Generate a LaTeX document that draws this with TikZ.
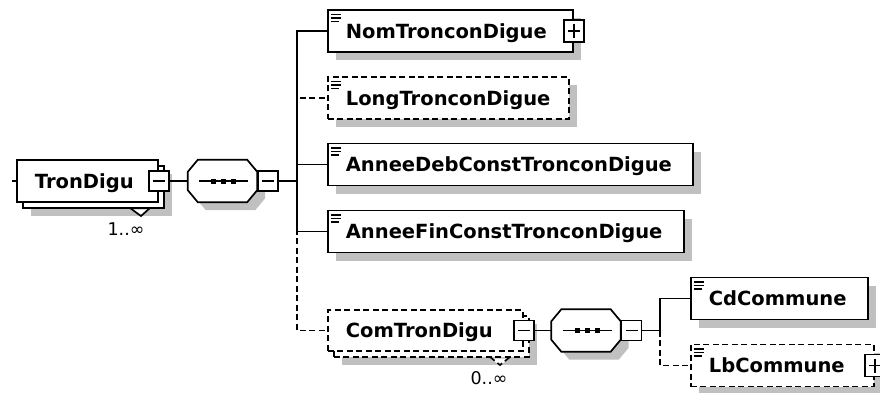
\documentclass[tikz,border=0pt]{standalone}
\usepackage{fontspec}
\setmainfont{DejaVu Sans}
\usetikzlibrary{shadows,calc}
\definecolor{shadowc}{RGB}{192,192,192}
\newcommand{\efont}{\bfseries\fontsize{19.5}{22}\selectfont}
\newcommand{\mfont}{\fontsize{17.5}{20}\selectfont}
\newcommand{\seqshape}[1]{%
  \draw[octo] ($(#1.north west)+(10,0)$) -- ($(#1.north east)+(-10,0)$) -- ($(#1.north east)+(0,12)$) -- ($(#1.south east)+(0,-12)$) -- ($(#1.south east)+(-10,0)$) -- ($(#1.south west)+(10,0)$) -- ($(#1.south west)+(0,-12)$) -- ($(#1.north west)+(0,12)$) -- cycle;
  \draw[conn] ($(#1.center)+(-23.5,0)$) -- ($(#1.center)+(25.5,0)$);
  \foreach \dx in {-9,1,11} \fill ($(#1.center)+(\dx,0)+(-2.5,-2.5)$) rectangle ++(5,5);
}
\tikzset{
  shad/.style={drop shadow={shadow xshift=8pt, shadow yshift=-8pt, fill=shadowc, opacity=1}},
  box/.style={draw, fill=white, line width=1.8pt, anchor=west, inner xsep=18pt, inner ysep=0pt,
    minimum height=42pt, align=left, font=\efont, text height=16pt, text depth=2pt},
  opt/.style={dash pattern=on 6pt off 3.5pt},
  conn/.style={line width=1.7pt},
  icon/.style={path picture={\foreach \dy/\len in {4.5/10,8/10,11.5/8}{\draw[line width=1.4pt, solid] ([xshift=3pt,yshift=-\dy pt]path picture bounding box.north west) -- ++(\len pt,0pt);}}},
  minus/.style={draw, fill=white, solid, line width=1.6pt, minimum width=20pt, minimum height=20pt, inner sep=0pt,
    path picture={\draw[line width=1.5pt] ([xshift=4pt]path picture bounding box.west) -- ([xshift=-4pt]path picture bounding box.east);}},
  plus/.style={draw, fill=white, solid, line width=1.6pt, minimum width=20pt, minimum height=22pt, inner sep=0pt,
    path picture={\draw[line width=1.5pt] ([xshift=4pt]path picture bounding box.west) -- ([xshift=-4pt]path picture bounding box.east);
      \draw[line width=1.5pt] ([yshift=-4pt]path picture bounding box.north) -- ([yshift=4pt]path picture bounding box.south);}},
  seqbox/.style={minimum width=69pt, minimum height=42pt, inner sep=0pt},
  octo/.style={draw, fill=white, line width=1.7pt, shad},
  mult/.style={font=\mfont, inner sep=0pt}
}
\begin{document}
\begin{tikzpicture}[x=1pt,y=-1pt]
\useasboundingbox[fill=white] (0,0) rectangle (880,392);

% TronDigu (stacked)
\node[box, shad, minimum width=141pt] (tronB) at (22,187) {};
\fill[white] (130,209.5) -- (141,216) -- (150,209.5) -- cycle;
\draw[conn] (130,208) -- (141,216) -- (150,208);
\node[box, minimum width=141pt, text width=105pt] (tron) at (16,181) {TronDigu};
\node[minus] (mt) at (tron.east) {};
\coordinate (stub) at (12,181);
\draw[conn] (stub) -- (tron.west);
\node[mult] (mu1) at (126,229) {1..∞};

% sequence 1
\node[seqbox] (s1) at (222.5,181) {};
\seqshape{s1}
\node[minus, anchor=west] (ms1) at (s1.east) {};
\draw[conn] (mt) -- (s1);
\coordinate (t1) at (297,181);
\draw[conn] (ms1) -- (t1);

% children
\node[box, shad, icon, minimum width=245pt, text width=209pt] (nom) at (327,31) {NomTronconDigue};
\node[plus] (pn) at (nom.east) {};
\node[box, shad, icon, opt, minimum width=241pt, text width=205pt] (long) at (327,98) {LongTronconDigue};
\node[box, shad, icon, text width=329pt] (deb) at (327,164.5) {AnneeDebConstTronconDigue};
\node[box, shad, icon, text width=320pt] (fin) at (327,231.5) {AnneeFinConstTronconDigue};

% ComTronDigu (stacked, optional)
\node[box, shad, opt, minimum width=195pt, minimum height=41pt] (comB) at (333,336.5) {};
\fill[white] (490,358.5) -- (500,365) -- (510,358.5) -- cycle;
\draw[conn, opt] (490,357) -- (500,365) -- (510,357);
\node[box, opt, minimum width=195pt, minimum height=41pt, text width=159pt] (com) at (327,330.5) {ComTronDigu};
\node[minus] (mc) at (com.east) {};
\node[mult] (mu2) at (489,378) {0..∞};

\draw[conn] (t1) |- (nom.west);
\draw[conn] (t1) |- (deb.west);
\draw[conn] (t1) |- (fin.west);
\draw[conn, opt] (t1) |- (long.west);
\draw[conn, opt] (t1) |- (com.west);

% sequence 2
\node[seqbox] (s2) at (586,330.5) {};
\seqshape{s2}
\node[minus, anchor=west] (ms2) at (s2.east) {};
\draw[conn] (mc) -- (s2);
\coordinate (t2) at (660,330.5);
\draw[conn] (ms2) -- (t2);

\node[box, shad, icon, minimum width=177pt, text width=141pt] (cd) at (690,298.5) {CdCommune};
\node[box, shad, icon, opt, minimum width=183pt, text width=147pt] (lb) at (690,365.5) {LbCommune};
\node[plus] (pl) at (lb.east) {};
\draw[conn] (t2) |- (cd.west);
\draw[conn, opt] (t2) |- (lb.west);
\end{tikzpicture}
\end{document}
